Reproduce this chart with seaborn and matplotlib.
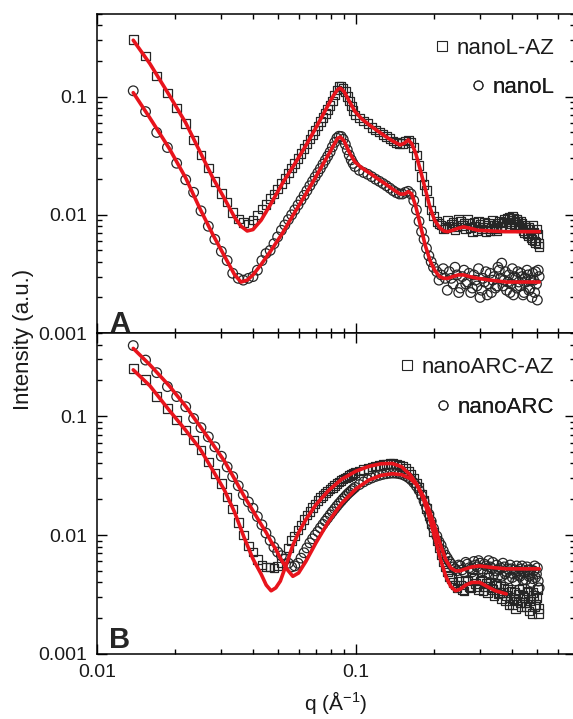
import numpy as np
import pandas as pd
import matplotlib
matplotlib.use('Agg')
import matplotlib.pyplot as plt
import seaborn as sns
from matplotlib.lines import Line2D
from matplotlib.ticker import FixedLocator, FixedFormatter, LogLocator, NullFormatter

sns.set_style('ticks')
plt.rcParams['font.family'] = ['Liberation Sans', 'DejaVu Sans']
plt.rcParams['mathtext.fontset'] = 'custom'
plt.rcParams['mathtext.rm'] = 'Liberation Sans'
plt.rcParams['mathtext.it'] = 'Liberation Sans:italic'

# ---------------- data ----------------
q = [0.0138, 0.0154, 0.0170, 0.0187, 0.0203, 0.0220, 0.0236, 0.0252, 0.0269, 0.0285,
     0.0302, 0.0318, 0.0334, 0.0351, 0.0367, 0.0384, 0.0400, 0.0416, 0.0433, 0.0449,
     0.0466, 0.0482, 0.0498, 0.0515, 0.0531, 0.0548, 0.0564, 0.0580, 0.0597,
     0.0613, 0.0630, 0.0646, 0.0663, 0.0679, 0.0695, 0.0712, 0.0728,
     0.0745, 0.0761, 0.0777, 0.0794, 0.0810, 0.0827, 0.0843, 0.0859,
     0.0876, 0.0892, 0.0909, 0.0925, 0.0941, 0.0958, 0.0974, 0.0991,
     0.103, 0.107, 0.111, 0.115, 0.119, 0.123, 0.127, 0.131, 0.135, 0.139,
     0.143, 0.147, 0.151, 0.155, 0.159, 0.163, 0.167, 0.171, 0.175, 0.179,
     0.183, 0.187, 0.191, 0.195, 0.199,
     0.205, 0.213, 0.221, 0.229, 0.237, 0.245, 0.253, 0.261, 0.269, 0.277,
     0.285, 0.293, 0.301, 0.309, 0.317, 0.325, 0.333, 0.341, 0.349, 0.357,
     0.365, 0.373, 0.381, 0.389, 0.397, 0.405, 0.413, 0.421, 0.429, 0.437,
     0.445, 0.453, 0.461, 0.469, 0.477, 0.485, 0.493, 0.501, 0.509,
     0.209, 0.217, 0.225, 0.233, 0.241, 0.249, 0.257, 0.265, 0.273, 0.281,
     0.289, 0.297, 0.305, 0.313, 0.321, 0.329, 0.337, 0.345, 0.353, 0.361,
     0.369, 0.377, 0.385, 0.393, 0.401, 0.409, 0.417, 0.425, 0.433, 0.441,
     0.449, 0.457, 0.465, 0.473, 0.481, 0.489, 0.497, 0.505]

nanoL_AZ = [0.305, 0.221, 0.150, 0.107, 0.080, 0.059, 0.043, 0.032, 0.0248, 0.0191,
            0.0152, 0.0128, 0.0105, 0.0092, 0.0086, 0.0083, 0.0090, 0.0100, 0.0112, 0.0122,
            0.0137, 0.0150, 0.0165, 0.0185, 0.0203, 0.0225, 0.0248, 0.0272, 0.0300,
            0.0330, 0.0364, 0.0398, 0.0438, 0.0477, 0.0518, 0.0566, 0.0613,
            0.0666, 0.0719, 0.0775, 0.084, 0.092, 0.103, 0.114, 0.122,
            0.123, 0.117, 0.110, 0.100, 0.092, 0.083, 0.076, 0.070,
            0.066, 0.062, 0.059, 0.055, 0.052, 0.050, 0.048, 0.046, 0.044, 0.042,
            0.041, 0.040, 0.040, 0.042, 0.043, 0.041, 0.037, 0.032, 0.026, 0.021,
            0.018, 0.016, 0.013, 0.011, 0.0098,
            0.0088, 0.0082, 0.0078, 0.0080, 0.0086, 0.0079, 0.0088, 0.0084, 0.0091, 0.0078,
            0.0086, 0.0074, 0.0083, 0.0079, 0.0072, 0.0085, 0.0077, 0.0081, 0.0073, 0.0088,
            0.0080, 0.0092, 0.0087, 0.0096, 0.0090, 0.0094, 0.0083, 0.0089, 0.0078, 0.0084,
            0.0071, 0.0079, 0.0066, 0.0075, 0.0062, 0.0071, 0.0058, 0.0068, 0.0054,
            0.0084, 0.0076, 0.0090, 0.0083, 0.0075, 0.0092, 0.0081, 0.0076, 0.0085, 0.0072,
            0.0080, 0.0089, 0.0076, 0.0087, 0.0081, 0.0074, 0.0090, 0.0077, 0.0085, 0.0078,
            0.0086, 0.0079, 0.0093, 0.0084, 0.0098, 0.0087, 0.0092, 0.0080, 0.0088, 0.0074,
            0.0081, 0.0069, 0.0078, 0.0064, 0.0082, 0.0060, 0.0076, 0.0057]

nanoL = [0.112, 0.0747, 0.0497, 0.0371, 0.0273, 0.0198, 0.0155, 0.0108, 0.0080, 0.0062,
         0.0049, 0.0041, 0.0032, 0.0029, 0.0028, 0.0029, 0.0030, 0.0034, 0.0041, 0.0047,
         0.0050, 0.0057, 0.0065, 0.0074, 0.0082, 0.0091, 0.0100, 0.0110, 0.0121,
         0.0133, 0.0146, 0.0160, 0.0176, 0.0192, 0.0209, 0.0227, 0.0246,
         0.0268, 0.0290, 0.0313, 0.0340, 0.0375, 0.0410, 0.0445, 0.0462,
         0.0460, 0.0435, 0.0395, 0.0355, 0.0320, 0.0292, 0.0272, 0.0256,
         0.0238, 0.0228, 0.0220, 0.0210, 0.0200, 0.0192, 0.0184, 0.0176, 0.0168, 0.0160,
         0.0154, 0.0150, 0.0150, 0.0155, 0.0158, 0.0150, 0.0132, 0.0110, 0.0088, 0.0072,
         0.0062, 0.0052, 0.0045, 0.0040, 0.0036,
         0.0033, 0.0031, 0.0029, 0.0033, 0.0026, 0.0031, 0.0024, 0.0034, 0.0027, 0.0022,
         0.0031, 0.0025, 0.0020, 0.0029, 0.0033, 0.0026, 0.0022, 0.0030, 0.0025, 0.0034,
         0.0039, 0.0028, 0.0023, 0.0031, 0.0026, 0.0021, 0.0029, 0.0033, 0.0025, 0.0030,
         0.0022, 0.0027, 0.0031, 0.0024, 0.0020, 0.0028, 0.0033, 0.0019, 0.0030,
         0.0028, 0.0035, 0.0023, 0.0029, 0.0036, 0.0022, 0.0030, 0.0026, 0.0032, 0.0024,
         0.0028, 0.0035, 0.0023, 0.0027, 0.0021, 0.0032, 0.0028, 0.0024, 0.0036, 0.0029,
         0.0025, 0.0033, 0.0027, 0.0022, 0.0035, 0.0030, 0.0024, 0.0027, 0.0032, 0.0021,
         0.0029, 0.0034, 0.0023, 0.0028, 0.0032, 0.0022, 0.0026, 0.0034]

nanoARC_AZ = [0.252, 0.204, 0.146, 0.116, 0.0925, 0.0762, 0.0628, 0.0517, 0.0412, 0.0329,
              0.0271, 0.0209, 0.0165, 0.0127, 0.0100, 0.0081, 0.0072, 0.0062, 0.0056, 0.0054,
              0.0054, 0.0053, 0.0055, 0.0058, 0.0064, 0.0078, 0.0090, 0.0098, 0.0110,
              0.0122, 0.0135, 0.0148, 0.0158, 0.0170, 0.0182, 0.0195, 0.0206,
              0.0216, 0.0226, 0.0235, 0.0244, 0.0252, 0.0261, 0.0270, 0.0279,
              0.0287, 0.0295, 0.0302, 0.0309, 0.0316, 0.0322, 0.0328, 0.0334,
              0.0345, 0.0355, 0.0364, 0.0372, 0.0380, 0.0386, 0.0392, 0.0396, 0.0398, 0.0398,
              0.0395, 0.0388, 0.0376, 0.0362, 0.0345, 0.0325, 0.0300, 0.0275, 0.0250, 0.0222,
              0.0195, 0.0168, 0.0145, 0.0124, 0.0106,
              0.0090, 0.0068, 0.0054, 0.0045, 0.0040, 0.0036, 0.0038, 0.0034, 0.0041, 0.0036,
              0.0043, 0.0037, 0.0041, 0.0034, 0.0039, 0.0044, 0.0036, 0.0031, 0.0038, 0.0033,
              0.0029, 0.0036, 0.0031, 0.0026, 0.0034, 0.0029, 0.0024, 0.0032, 0.0027, 0.0036,
              0.0030, 0.0025, 0.0033, 0.0028, 0.0022, 0.0031, 0.0026, 0.0035, 0.0024,
              0.0078, 0.0060, 0.0049, 0.0043, 0.0038, 0.0041, 0.0035, 0.0042, 0.0037, 0.0044,
              0.0039, 0.0035, 0.0042, 0.0037, 0.0033, 0.0040, 0.0035, 0.0039, 0.0032, 0.0037,
              0.0033, 0.0028, 0.0035, 0.0030, 0.0026, 0.0033, 0.0028, 0.0035, 0.0025, 0.0031,
              0.0027, 0.0034, 0.0023, 0.0029, 0.0033, 0.0025, 0.0030, 0.0022]

nanoARC = [0.392, 0.296, 0.232, 0.177, 0.146, 0.120, 0.0955, 0.080, 0.067, 0.0552,
           0.046, 0.0374, 0.0310, 0.0260, 0.0218, 0.0190, 0.0168, 0.0143, 0.0122, 0.0104,
           0.0090, 0.0079, 0.0072, 0.0067, 0.0063, 0.0058, 0.0054, 0.0055, 0.0058,
           0.0064, 0.0071, 0.0078, 0.0086, 0.0093, 0.0100, 0.0107, 0.0115,
           0.0123, 0.0131, 0.0139, 0.0148, 0.0157, 0.0166, 0.0175, 0.0184,
           0.0193, 0.0202, 0.0211, 0.0220, 0.0228, 0.0236, 0.0244, 0.0252,
           0.0266, 0.0280, 0.0292, 0.0302, 0.0311, 0.0318, 0.0324, 0.0328, 0.0331, 0.0332,
           0.0331, 0.0328, 0.0323, 0.0315, 0.0305, 0.0292, 0.0276, 0.0258, 0.0238, 0.0216,
           0.0193, 0.0171, 0.0150, 0.0131, 0.0114,
           0.0098, 0.0082, 0.0068, 0.0060, 0.0054, 0.0050, 0.0055, 0.0049, 0.0057, 0.0052,
           0.0060, 0.0054, 0.0058, 0.0050, 0.0055, 0.0061, 0.0053, 0.0047, 0.0056, 0.0051,
           0.0045, 0.0054, 0.0049, 0.0043, 0.0052, 0.0047, 0.0041, 0.0050, 0.0045, 0.0055,
           0.0048, 0.0042, 0.0051, 0.0046, 0.0040, 0.0050, 0.0044, 0.0053, 0.0036,
           0.0088, 0.0074, 0.0064, 0.0057, 0.0052, 0.0056, 0.0051, 0.0059, 0.0053, 0.0049,
           0.0056, 0.0061, 0.0052, 0.0057, 0.0048, 0.0054, 0.0059, 0.0050, 0.0045, 0.0053,
           0.0058, 0.0047, 0.0052, 0.0056, 0.0044, 0.0051, 0.0055, 0.0046, 0.0052, 0.0042,
           0.0049, 0.0054, 0.0045, 0.0051, 0.0043, 0.0055, 0.0047, 0.0041]

# fitted model curves
q_fit_top = [0.0138, 0.016, 0.019, 0.022, 0.025, 0.028, 0.031, 0.034, 0.036, 0.038,
             0.040, 0.043, 0.047, 0.052, 0.058, 0.064, 0.070, 0.075, 0.079, 0.082,
             0.085, 0.087, 0.090, 0.094, 0.099, 0.105, 0.112, 0.120, 0.130, 0.140,
             0.148, 0.154, 0.159, 0.164, 0.170, 0.177, 0.185, 0.193, 0.201, 0.210,
             0.218, 0.226, 0.236, 0.248, 0.260, 0.275, 0.295, 0.33, 0.38, 0.44, 0.51]
fit_nanoL_AZ = [0.300, 0.190, 0.103, 0.060, 0.034, 0.0205, 0.0138, 0.0095, 0.0080, 0.0073,
                0.0075, 0.0090, 0.0125, 0.0185, 0.0270, 0.0385, 0.0545, 0.072, 0.089, 0.103,
                0.115, 0.118, 0.110, 0.092, 0.075, 0.065, 0.058, 0.052, 0.046, 0.0415,
                0.039, 0.0405, 0.043, 0.040, 0.033, 0.024, 0.0165, 0.0115, 0.0090, 0.0078,
                0.0073, 0.0072, 0.0074, 0.0077, 0.0079, 0.0077, 0.0074, 0.0073, 0.0072, 0.0072, 0.0072]
fit_nanoL = [0.108, 0.066, 0.0365, 0.0205, 0.0112, 0.0068, 0.0045, 0.0031, 0.0027, 0.0028,
             0.0031, 0.0038, 0.0050, 0.0070, 0.0105, 0.0150, 0.0210, 0.0275, 0.0335, 0.0390,
             0.0445, 0.0455, 0.0420, 0.0340, 0.0280, 0.0250, 0.0228, 0.0205, 0.0182, 0.0162,
             0.0150, 0.0150, 0.0157, 0.0150, 0.0118, 0.0082, 0.0055, 0.0041, 0.0034, 0.0030,
             0.0029, 0.0029, 0.0030, 0.0031, 0.0031, 0.0030, 0.0029, 0.0028, 0.0027, 0.0027, 0.0027]

q_fit_bot = [0.0138, 0.016, 0.019, 0.022, 0.025, 0.028, 0.031, 0.034, 0.037, 0.040,
             0.043, 0.045, 0.047, 0.049, 0.051, 0.054, 0.057, 0.060, 0.064, 0.070,
             0.078, 0.088, 0.100, 0.112, 0.125, 0.138, 0.150, 0.162, 0.172, 0.182,
             0.192, 0.202, 0.212, 0.222, 0.232, 0.242, 0.252, 0.265, 0.280, 0.300,
             0.320, 0.345, 0.38, 0.44, 0.51]
fit_nanoARC_AZ = [0.245, 0.180, 0.112, 0.076, 0.053, 0.035, 0.024, 0.0155, 0.0095, 0.0063,
                  0.0047, 0.0038, 0.0034, 0.0036, 0.0041, 0.0058, 0.0082, 0.0105, 0.0135, 0.0180,
                  0.0235, 0.0295, 0.0345, 0.0378, 0.0398, 0.0400, 0.0375, 0.0320, 0.0265, 0.0200,
                  0.0140, 0.0093, 0.0062, 0.0045, 0.0037, 0.0034, 0.0035, 0.0038, 0.0040, 0.0040,
                  0.0037, 0.0034, 0.0032]
fit_nanoARC = [0.371, 0.270, 0.180, 0.121, 0.082, 0.058, 0.042, 0.0295, 0.0212, 0.0160,
               0.0123, 0.0105, 0.0088, 0.0076, 0.0064, 0.0052, 0.0045, 0.0048, 0.0060, 0.0086,
               0.0128, 0.0185, 0.0245, 0.0290, 0.0318, 0.0328, 0.0322, 0.0298, 0.0262, 0.0212,
               0.0160, 0.0115, 0.0082, 0.0062, 0.0053, 0.0050, 0.0050, 0.0052, 0.0054, 0.0055,
               0.0054, 0.0053, 0.0052, 0.0052, 0.0052]

# ---------------- styling ----------------
W, H = 573, 719
RED = '#e8141c'
MK = '#262626'
fig = plt.figure(figsize=(W / 100, H / 100), dpi=100)
fig.patch.set_facecolor('white')

left, right = 97, 575
ax1 = fig.add_axes([left / W, 1 - 333 / H, (right - left) / W, (333 - 14) / H])
ax2 = fig.add_axes([left / W, 1 - 654 / H, (right - left) / W, (654 - 333) / H])

for ax in (ax1, ax2):
    ax.set_xscale('log')
    ax.set_yscale('log')

df_top = pd.DataFrame({'q': q, 'nanoL-AZ': nanoL_AZ, 'nanoL': nanoL})
df_bot = pd.DataFrame({'q': q, 'nanoARC-AZ': nanoARC_AZ, 'nanoARC': nanoARC})

def data_layer(ax, df, col, marker, size):
    sns.scatterplot(data=df, x='q', y=col, ax=ax, marker=marker, s=size,
                    facecolor='none', edgecolor=MK, linewidth=0.9, zorder=2)

def fit_layer(ax, qq, vals):
    sns.lineplot(x=qq[:len(vals)], y=vals, ax=ax, color=RED, lw=2.6,
                 sort=False, estimator=None, zorder=3)

data_layer(ax1, df_top, 'nanoL-AZ', 's', 38)
data_layer(ax1, df_top, 'nanoL', 'o', 48)
fit_layer(ax1, q_fit_top, fit_nanoL_AZ)
fit_layer(ax1, q_fit_top, fit_nanoL)

data_layer(ax2, df_bot, 'nanoARC-AZ', 's', 38)
data_layer(ax2, df_bot, 'nanoARC', 'o', 48)
fit_layer(ax2, q_fit_bot, fit_nanoARC_AZ)
fit_layer(ax2, q_fit_bot, fit_nanoARC)

for ax in (ax1, ax2):
    ax.set_xlim(0.01, 0.70)
    ax.set_ylim(0.001, 0.5)
    ax.set_xlabel('')
    ax.set_ylabel('')
    ax.yaxis.set_major_locator(FixedLocator([0.001, 0.01, 0.1]))
    ax.yaxis.set_major_formatter(FixedFormatter(['0.001', '0.01', '0.1']))
    ax.yaxis.set_minor_locator(LogLocator(base=10, subs=np.arange(2, 10), numticks=20))
    ax.yaxis.set_minor_formatter(NullFormatter())
    ax.xaxis.set_major_locator(FixedLocator([0.01, 0.1]))
    ax.xaxis.set_major_formatter(FixedFormatter(['0.01', '0.1']))
    ax.xaxis.set_minor_locator(LogLocator(base=10, subs=np.arange(2, 10), numticks=20))
    ax.xaxis.set_minor_formatter(NullFormatter())
    ax.tick_params(which='both', direction='in', top=True, right=True,
                   width=1.0, color='black', labelsize=14, labelcolor='#1a1a1a', pad=7)
    ax.tick_params(which='major', length=7)
    ax.tick_params(which='minor', length=3.5)
    for sp in ax.spines.values():
        sp.set_linewidth(1.1)
        sp.set_color('black')
    ax.set_facecolor('white')

ax1.tick_params(labelbottom=False)

def entry(ax, marker, label, x, y):
    h = Line2D([], [], marker=marker, ls='none', mfc='none', mec=MK, ms=6.5, mew=0.8)
    leg = ax.legend([h], [label], loc='center right', bbox_to_anchor=(x, y),
                    frameon=False, fontsize=16, handlelength=0.6, handletextpad=0.35,
                    borderpad=0, borderaxespad=0, labelcolor='#1a1a1a')
    ax.add_artist(leg)

entry(ax1, 's', 'nanoL-AZ', 0.956, 0.893)
entry(ax1, 'o', 'nanoL', 0.956, 0.771)
entry(ax2, 's', 'nanoARC-AZ', 0.956, 0.894)
entry(ax2, 'o', 'nanoARC', 0.956, 0.769)

ax1.text(0.025, 0.003, 'A', transform=ax1.transAxes, fontsize=21, fontweight='bold',
         ha='left', va='baseline')
ax2.text(0.025, 0.019, 'B', transform=ax2.transAxes, fontsize=21, fontweight='bold',
         ha='left', va='baseline')

fig.text(24 / W, 1 - 339 / H, 'Intensity (a.u.)', rotation=90, ha='center', va='center',
         fontsize=16, color='#1a1a1a')
fig.text(336 / W, 1 - 716 / H, 'q (Å$^{-1}$)', ha='center', va='bottom',
         fontsize=15, color='#1a1a1a')

fig.savefig('out.png', dpi=100, facecolor='white')
